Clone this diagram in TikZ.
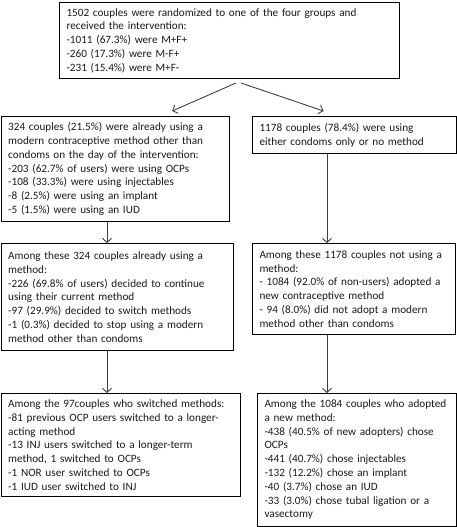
\documentclass[tikz,border=0pt]{standalone}
\usepackage{fontspec}
\setmainfont{Carlito}
\usetikzlibrary{arrows.meta}
\begin{document}
\begin{tikzpicture}[x=1pt,y=-1pt,
  box/.style={draw=black, line width=1pt, anchor=north west, align=left,
    inner xsep=7pt, inner ysep=0pt, text=black!90,
    font=\fontsize{11.2}{13.8}\selectfont},
  conn/.style={draw=black!75, line width=0.9pt,
    -{Straight Barb[length=4pt,width=9pt]}}]
\useasboundingbox (0,0) rectangle (457,527);
\coordinate (colL) at (107,0);
\coordinate (colR) at (327,0);
\node[box, text width=326pt, minimum height=76pt] (top) at (59,2)
 {1502 couples were randomized to one of the four groups and\\
  received the intervention:\\
  -1011 (67.3\%) were M+F+\\
  -260 (17.3\%) were M-F+\\
  -231 (15.4\%) were M+F-};
\node[box, text width=214pt, minimum height=105pt] (l2) at (0.7,116)
 {324 couples (21.5\%) were already using a\\
  modern contraceptive method other than\\
  condoms on the day of the intervention:\\
  -203 (62.7\% of users) were using OCPs\\
  -108 (33.3\%) were using injectables\\
  -8 (2.5\%) were using an implant\\
  -5 (1.5\%) were using an IUD};
\node[box, text width=190pt, minimum height=37pt] (r2) at (252,116)
 {1178 couples (78.4\%) were using\\
  either condoms only or no method};
\node[box, text width=218pt, minimum height=107pt] (l3) at (0.7,243)
 {Among these 324 couples already using a\\
  method:\\
  -226 (69.8\% of users) decided to continue\\
  using their current method\\
  -97 (29.9\%) decided to switch methods\\
  -1 (0.3\%) decided to stop using a modern\\
  method other than condoms};
\node[box, text width=189pt, minimum height=91pt] (r3) at (252,243)
 {Among these 1178 couples not using a\\
  method:\\
  - 1084 (92.0\% of non-users) adopted a\\
  new contraceptive method\\
  - 94 (8.0\%) did not adopt a modern\\
  method other than condoms};
\node[box, text width=225pt, minimum height=103pt] (l4) at (0.7,393)
 {Among the 97couples who switched methods:\\
  -81 previous OCP users switched to a longer-\\
  acting method\\
  -13 INJ users switched to a longer-term\\
  method, 1 switched to OCPs\\
  -1 NOR user switched to OCPs\\
  -1 IUD user switched to INJ};
\node[box, text width=185pt, minimum height=132.5pt] (r4) at (257,393)
 {Among the 1084 couples who adopted\\
  a new method:\\
  -438 (40.5\% of new adopters) chose\\
  OCPs\\
  -441 (40.7\%) chose injectables\\
  -132 (12.2\%) chose an implant\\
  -40 (3.7\%) chose an IUD\\
  -33 (3.0\%) chose tubal ligation or a\\
  vasectomy};
\draw[conn] ([xshift=6.5pt,yshift=-4pt]top.south) -- ([xshift=57pt,yshift=5pt]l2.north);
\draw[conn] ([xshift=11.5pt,yshift=-4pt]top.south) -- ([xshift=-31pt,yshift=5pt]r2.north);
\draw[conn] (l2.south -| colL) -- (l3.north -| colL);
\draw[conn] (r2.south -| colR) -- (r3.north -| colR);
\draw[conn] (l3.south -| colL) -- (l4.north -| colL);
\draw[conn] (r3.south -| colR) -- (r4.north -| colR);
\end{tikzpicture}
\end{document}
